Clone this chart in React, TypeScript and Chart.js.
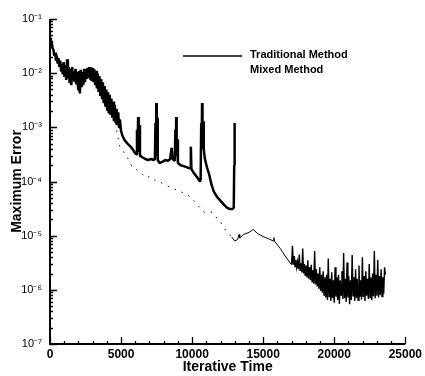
import React, { useEffect, useRef } from 'react';
import { Chart, registerables } from 'chart.js';

Chart.register(...registerables);

const FONT = "'Liberation Sans', Arial, Helvetica, sans-serif";

// ---- axis ticks ----
const xTickValues = [0, 5000, 10000, 15000, 20000, 25000];
const yTickValues = [1e-7, 1e-6, 1e-5, 1e-4, 1e-3, 1e-2, 1e-1];
const yTickLabels = ['10⁻⁷', '10⁻⁶', '10⁻⁵', '10⁻⁴', '10⁻³', '10⁻²', '10⁻¹'];

// ---- Traditional Method ----
const tradX = [
  0, 60, 120, 180, 240, 300, 360, 420, 480, 540,
  600, 660, 720, 780, 840, 900, 960, 1020, 1080, 1140,
  1200, 1260, 1320, 1380, 1440, 1500, 1560, 1620, 1680, 1740,
  1800, 1860, 1920, 1980, 2040, 2100, 2160, 2220, 2280, 2340,
  2400, 2460, 2520, 2580, 2640, 2700, 2760, 2820, 2880, 2940,
  3000, 3060, 3120, 3180, 3240, 3300, 3360, 3420, 3480, 3540,
  3600, 3660, 3720, 3780, 3840, 3900, 3960, 4020, 4080, 4140,
  4200, 4260, 4320, 4380, 4440, 4500, 4560, 4620, 4680, 4740,
  4800, 4860, 4920, 5000,
  5100, 5250, 5450, 5600, 5800, 6000,
  6080, 6120, 6160, 6200, 6240, 6280, 6330,
  6500, 6700, 6900, 7100, 7300,
  7380, 7420, 7450, 7480, 7510, 7540, 7580,
  7700, 7900, 8100, 8300, 8450, 8560, 8620,
  8780, 8820, 8850, 8880, 8910, 8950, 9000,
  9200, 9450, 9700, 9880, 9910, 9950,
  10150, 10350, 10550,
  10600, 10640, 10670, 10700, 10730, 10770, 10820, 10900,
  11050, 11200, 11350, 11520, 11750, 12000, 12250, 12450, 12650, 12850, 12930, 12960, 12990,
];
const tradY = [
  0.045, 0.036, 0.038, 0.029, 0.027, 0.021, 0.024, 0.017, 0.021, 0.015,
  0.019, 0.013, 0.017, 0.011, 0.015, 0.0095, 0.016, 0.0085, 0.014, 0.0075,
  0.018, 0.008, 0.013, 0.0065, 0.012, 0.006, 0.013, 0.0075, 0.011, 0.0068,
  0.012, 0.0062, 0.0105, 0.005, 0.011, 0.0042, 0.0115, 0.0055, 0.0105, 0.006,
  0.012, 0.0068, 0.0115, 0.0078, 0.0125, 0.0082, 0.013, 0.0078, 0.0128, 0.0072,
  0.0125, 0.0068, 0.0118, 0.006, 0.011, 0.0052, 0.0098, 0.0045, 0.0088, 0.0038,
  0.0078, 0.0034, 0.0068, 0.0028, 0.0058, 0.0024, 0.005, 0.0021, 0.0045, 0.0018,
  0.004, 0.0017, 0.0034, 0.0015, 0.003, 0.0013, 0.0026, 0.0012, 0.0022, 0.0011,
  0.0019, 0.001, 0.0014, 0.00085,
  7e-4, 5.8e-4, 5e-4, 4.6e-4, 4e-4, 3.3e-4,
  3.2e-4, 9e-4, 3.5e-4, 1.55e-3, 4e-4, 1.1e-3, 3e-4,
  2.8e-4, 2.6e-4, 2.5e-4, 2.6e-4, 2.5e-4,
  2.6e-4, 1.2e-3, 3e-4, 2.8e-3, 4e-4, 1.5e-3, 2.5e-4,
  2.2e-4, 2.3e-4, 2.5e-4, 2.4e-4, 2.6e-4, 4.2e-4, 2.6e-4,
  2.4e-4, 9e-4, 3e-4, 1.55e-3, 3e-4, 6e-4, 2.2e-4,
  2e-4, 1.9e-4, 1.8e-4, 1.75e-4, 4.4e-4, 1.7e-4,
  1.4e-4, 1.2e-4, 1e-4,
  1.1e-4, 1.2e-3, 4e-4, 2.8e-3, 6e-4, 1.3e-3, 4e-4, 2.6e-4,
  1.8e-4, 1.35e-4, 9e-5, 6.6e-5, 5.2e-5, 4.4e-5, 3.7e-5, 3.3e-5, 3.1e-5, 3.1e-5, 3.3e-5, 2e-4, 1.2e-3,
];

// ---- Mixed Method ----
const mixedX = [
  4600, 4700, 4900, 5100, 5500, 5750, 6100, 6450, 6800, 7000,
  7400, 7850, 8400, 8900, 9300, 9650, 10100, 10500, 10850, 11100,
  11400, 12000, 12400, 12780, 13000, 13200, 13300, 13350, 13600, 14000,
  14300, 14600, 15000, 15400, 15700, 15750, 15800, 16200, 16500, 16800,
  16950,
  17000, 17060, 17120, 17180, 17240, 17300, 17360, 17420, 17480, 17540,
  17600, 17660, 17720, 17780, 17840, 17900, 17960, 18020, 18080, 18140,
  18200, 18260, 18320, 18380, 18440, 18500, 18560, 18620, 18680, 18740,
  18800, 18860, 18920, 18980, 19040, 19100, 19160, 19220, 19280, 19340,
  19400, 19460, 19520, 19580, 19640, 19700, 19760, 19820, 19880, 19940,
  20000, 20060, 20120, 20180, 20240, 20300, 20360, 20420, 20480, 20540,
  20600, 20660, 20720, 20780, 20840, 20900, 20960, 21020, 21080, 21140,
  21200, 21260, 21320, 21380, 21440, 21500, 21560, 21620, 21680, 21740,
  21800, 21860, 21920, 21980, 22040, 22100, 22160, 22220, 22280, 22340,
  22400, 22460, 22520, 22580, 22640, 22700, 22760, 22820, 22880, 22940,
  23000, 23060, 23120, 23180, 23240, 23300, 23360, 23420, 23480, 23540,
  23600,
];
const mixedY = [
  1.2e-3, 8.5e-4, 4.5e-4, 3.8e-4, 2.6e-4, 1.9e-4, 1.65e-4, 1.4e-4, 1.17e-4, 1.25e-4,
  1.05e-4, 9.5e-5, 8e-5, 7e-5, 6.3e-5, 5.8e-5, 4.5e-5, 3.4e-5, 2.7e-5, 2.8e-5,
  2.7e-5, 1.8e-5, 1.2e-5, 9.5e-6, 8e-6, 8.5e-6, 1.05e-5, 9e-6, 1.05e-5, 1.15e-5,
  1.3e-5, 1.1e-5, 9.6e-6, 8.7e-6, 8e-6, 9.2e-6, 7.9e-6, 5.8e-6, 4.4e-6, 3.4e-6,
  3e-6,
  3.0e-6, 6.5e-6, 2.9e-6, 4.2e-6, 2.7e-6, 3.6e-6, 2.6e-6, 3.3e-6, 2.4e-6, 4.5e-6,
  2.3e-6, 3.1e-6, 2.1e-6, 5.8e-6, 2.0e-6, 3.0e-6, 1.8e-6, 2.8e-6, 1.7e-6, 3.5e-6,
  1.6e-6, 2.6e-6, 1.5e-6, 2.9e-6, 1.4e-6, 2.3e-6, 1.3e-6, 5.2e-6, 1.25e-6, 2.4e-6,
  1.15e-6, 2.0e-6, 1.05e-6, 2.6e-6, 9.5e-7, 1.9e-6, 8.8e-7, 2.2e-6, 8e-7, 1.7e-6,
  7.2e-7, 1.9e-6, 6.5e-7, 3.8e-6, 7.5e-7, 1.6e-6, 6.2e-7, 2.1e-6, 7e-7, 1.5e-6,
  5.8e-7, 2.6e-6, 7.5e-7, 1.7e-6, 6.5e-7, 1.9e-6, 5.5e-7, 1.5e-6, 8e-7, 2.2e-6,
  6.8e-7, 4.8e-6, 7e-7, 1.6e-6, 6e-7, 3.2e-6, 7.2e-7, 1.8e-6, 5.4e-7, 1.5e-6,
  6.5e-7, 4.4e-6, 7.8e-7, 1.7e-6, 6.2e-7, 2.4e-6, 7e-7, 1.6e-6, 6.4e-7, 2.8e-6,
  7.5e-7, 1.5e-6, 6.6e-7, 4.0e-6, 7.4e-7, 1.8e-6, 6.2e-7, 2.2e-6, 7.8e-7, 1.6e-6,
  6.8e-7, 3.0e-6, 7.2e-7, 1.7e-6, 6.4e-7, 2.0e-6, 7.6e-7, 5.2e-6, 7e-7, 1.9e-6,
  7.8e-7, 3.6e-6, 7.2e-7, 1.8e-6, 8e-7, 2.4e-6, 7.5e-7, 1.7e-6, 8.5e-7, 2.6e-6,
  1.9e-6,
];
const mixedDottedUntil = 12700;
const mixedNoisyFrom = 16950;

const toPoints = (xs: number[], ys: number[]) => xs.map((x, i) => ({ x, y: ys[i] }));

const framePlugin = {
  id: 'frameTicksLegend',
  afterDatasetsDraw(chart: any) {
    const { ctx, chartArea: a, scales } = chart;
    const x = scales.x;
    const y = scales.y;
    ctx.save();
    ctx.strokeStyle = '#000';
    ctx.lineCap = 'butt';
    // axis lines
    ctx.lineWidth = 2;
    ctx.beginPath();
    ctx.moveTo(a.left, a.top);
    ctx.lineTo(a.left, a.bottom);
    ctx.lineTo(a.right, a.bottom);
    ctx.stroke();
    // inward ticks
    ctx.lineWidth = 1.3;
    ctx.beginPath();
    for (let v = x.min; v <= x.max + 1; v += 1000) {
      const px = Math.round(x.getPixelForValue(v)) + 0.5;
      const len = v % 5000 === 0 ? 7 : 3;
      ctx.moveTo(px, a.bottom);
      ctx.lineTo(px, a.bottom - len);
    }
    for (let e = -7; e <= -1; e++) {
      for (let m = 1; m <= 9; m++) {
        const v = m * Math.pow(10, e);
        if (v > y.max * 1.0001) break;
        const py = Math.round(y.getPixelForValue(v)) + 0.5;
        const len = m === 1 ? 7 : 3;
        ctx.moveTo(a.left, py);
        ctx.lineTo(a.left + len, py);
      }
    }
    ctx.stroke();
    // legend
    const ds = chart.data.datasets;
    ctx.lineWidth = 1.5;
    ctx.beginPath();
    ctx.moveTo(183, 56);
    ctx.lineTo(242, 56);
    ctx.stroke();
    ctx.fillStyle = '#000';
    ctx.font = `bold 11px ${FONT}`;
    ctx.textBaseline = 'middle';
    ctx.textAlign = 'left';
    ctx.fillText(ds[0].label, 250, 55);
    ctx.fillText(ds[1].label, 250, 70);
    ctx.restore();
  },
};

export default function App() {
  const ref = useRef<HTMLCanvasElement | null>(null);
  useEffect(() => {
    document.body.style.margin = '0';
    const canvas = ref.current;
    if (!canvas) return;
    const chart = new Chart(canvas, {
      type: 'line',
      data: {
        datasets: [
          {
            label: 'Traditional Method',
            data: toPoints(tradX, tradY),
            borderColor: '#000',
            borderWidth: 2.5,
            pointRadius: 0,
            tension: 0,
            fill: false,
            borderJoinStyle: 'bevel',
            order: 1,
          },
          {
            label: 'Mixed Method',
            data: toPoints(mixedX, mixedY),
            borderColor: '#000',
            borderWidth: 1,
            pointRadius: 0,
            tension: 0,
            fill: false,
            order: 2,
            segment: {
              borderDash: (c: any) => (c.p0.parsed.x < mixedDottedUntil ? [1.5, 6] : undefined),
              borderWidth: (c: any) => (c.p0.parsed.x >= mixedNoisyFrom ? 1.4 : undefined),
            },
          },
        ],
      },
      options: {
        animation: false,
        responsive: false,
        maintainAspectRatio: false,
        events: [],
        layout: { padding: { top: 19, right: 17, left: 0, bottom: 0 } },
        plugins: { legend: { display: false }, tooltip: { enabled: false } },
        scales: {
          x: {
            type: 'linear',
            min: 0,
            max: 25000,
            afterBuildTicks: (s: any) => {
              s.ticks = xTickValues.map((v) => ({ value: v }));
            },
            afterFit: (s: any) => {
              s.height = 32;
            },
            ticks: {
              color: '#000',
              padding: 3,
              maxRotation: 0,
              autoSkip: false,
              font: { family: FONT, size: 12, weight: 'bold' },
              callback: (v: any) => String(v),
            },
            grid: { display: false, drawTicks: false },
            border: { display: false },
            title: {
              display: true,
              text: 'Iterative Time',
              color: '#000',
              font: { family: FONT, size: 14, weight: 'bold' },
              padding: { top: 0, bottom: 0 },
            },
          },
          y: {
            type: 'logarithmic',
            min: 1e-7,
            max: 1e-1,
            afterBuildTicks: (s: any) => {
              s.ticks = yTickValues.map((v) => ({ value: v }));
            },
            afterFit: (s: any) => {
              s.width = 50;
            },
            ticks: {
              color: '#000',
              padding: 8,
              autoSkip: false,
              font: { family: FONT, size: 11 },
              callback: (v: any) => {
                const i = yTickValues.findIndex((t) => Math.abs(Math.log10(t) - Math.log10(v)) < 0.01);
                return i >= 0 ? yTickLabels[i] : '';
              },
            },
            grid: { display: false, drawTicks: false },
            border: { display: false },
            title: {
              display: true,
              text: 'Maximum Error',
              color: '#000',
              font: { family: FONT, size: 14, weight: 'bold' },
              padding: { top: 9, bottom: 0 },
            },
          },
        },
      },
      plugins: [framePlugin],
    } as any);
    return () => chart.destroy();
  }, []);
  return (
    <div style={{ width: 425, height: 376 }}>
      <canvas ref={ref} width={425} height={376} style={{ display: 'block' }} />
    </div>
  );
}
